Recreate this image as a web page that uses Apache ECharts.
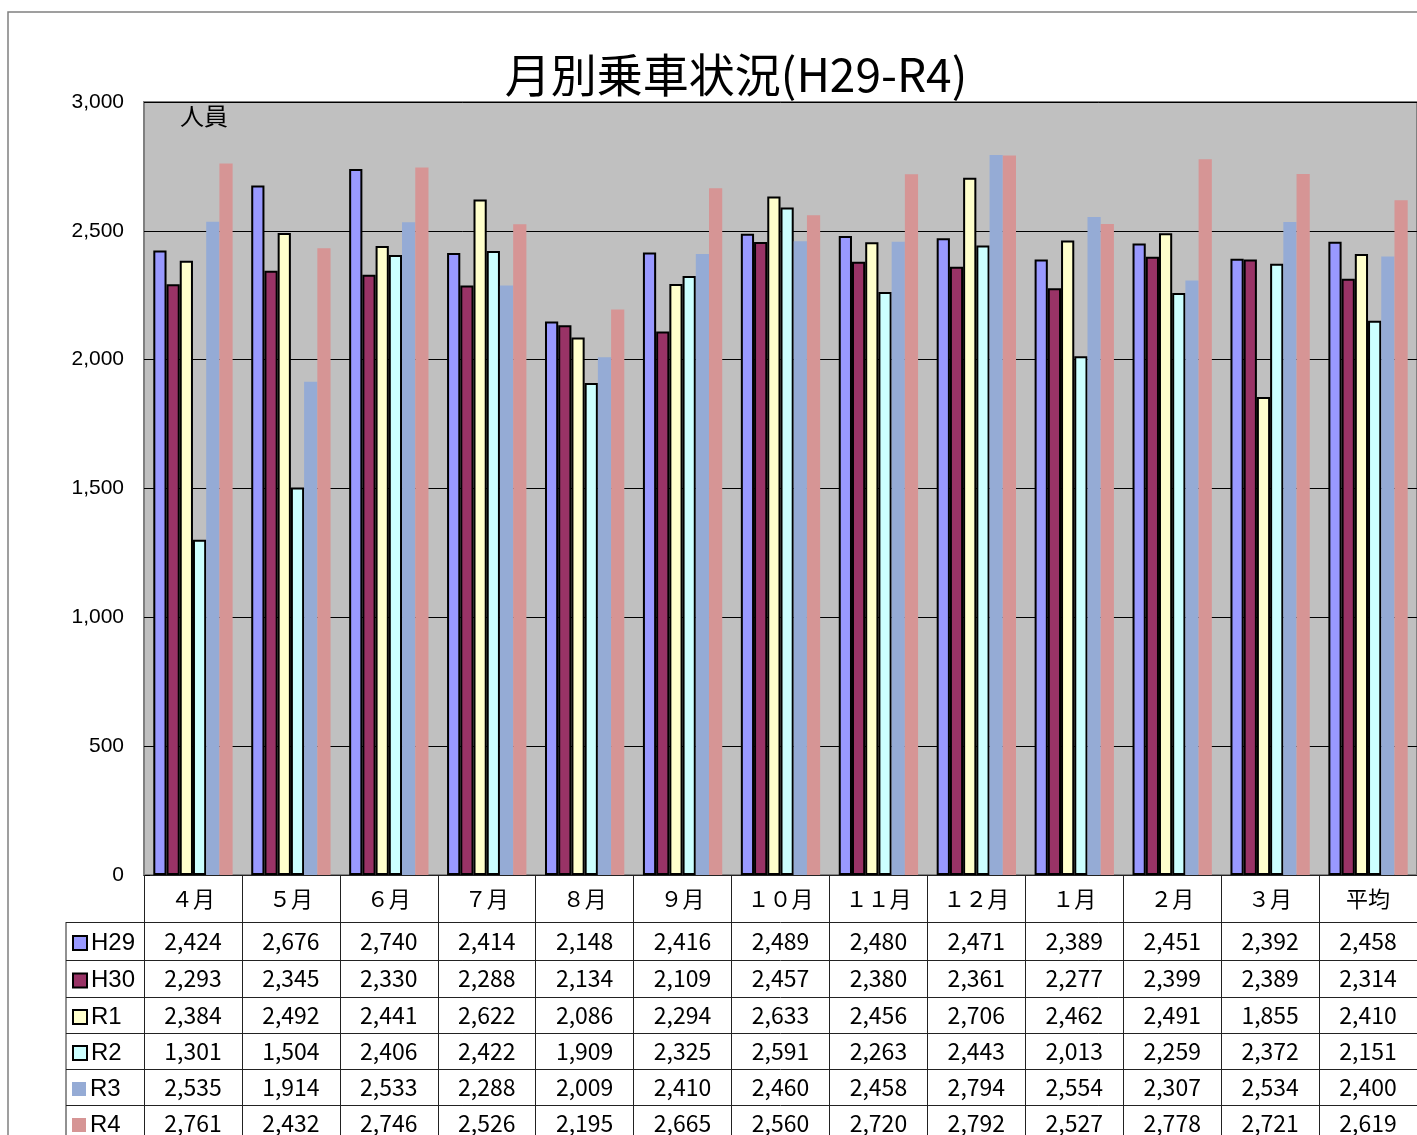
<!DOCTYPE html>
<html>
<head>
<meta charset="utf-8">
<title>月別乗車状況</title>
<script src="https://cdn.jsdelivr.net/npm/echarts@6/dist/echarts.min.js"></script>
<style>
	html, body { margin: 0; padding: 0; background: #fff; }
	#main { width: 1417px; height: 1135px; }
</style>
</head>
<body>
<div id="main"></div>
<script type="text/javascript">
	// 月（横軸）
	var months = ['４月', '５月', '６月', '７月', '８月', '９月', '１０月', '１１月', '１２月', '１月', '２月', '３月', '平均'];
	// 年度ごとの乗車人員
	var seriesNames = ['H29', 'H30', 'R1', 'R2', 'R3', 'R4'];
	var h29 = [2424, 2676, 2740, 2414, 2148, 2416, 2489, 2480, 2471, 2389, 2451, 2392, 2458];
	var h30 = [2293, 2345, 2330, 2288, 2134, 2109, 2457, 2380, 2361, 2277, 2399, 2389, 2314];
	var r1 = [2384, 2492, 2441, 2622, 2086, 2294, 2633, 2456, 2706, 2462, 2491, 1855, 2410];
	var r2 = [1301, 1504, 2406, 2422, 1909, 2325, 2591, 2263, 2443, 2013, 2259, 2372, 2151];
	var r3 = [2535, 1914, 2533, 2288, 2009, 2410, 2460, 2458, 2794, 2554, 2307, 2534, 2400];
	var r4 = [2761, 2432, 2746, 2526, 2195, 2665, 2560, 2720, 2792, 2527, 2778, 2721, 2619];
	var allData = [h29, h30, r1, r2, r3, r4];
	var colors = ['#9999FF', '#993366', '#FFFFCC', '#CCFFFF', '#95ABD5', '#D69595'];
	var bordered = [true, true, true, true, false, false];

	var fontJP = '"Noto Sans CJK JP", sans-serif';

	// 表の行（x軸からのオフセットと高さ）
	var rowOffsets = [0, 47, 85, 122, 158, 194, 230];
	var rowHeights = [47, 38, 37, 36, 36, 36, 36];

	function fmt(v) {
		return String(v).replace(/\B(?=(\d{3})+(?!\d))/g, ',');
	}

	var myChart = echarts.init(document.getElementById('main'));

	// x軸: 0番目が月、それ以降がデータ表の各行
	var xAxes = [];
	for (var i = 0; i < rowOffsets.length; i++) {
		var rowData = i === 0 ? months : allData[i - 1].map(fmt);
		var fs = i === 0 ? 22 : 23;
		xAxes.push({
			type: 'category',
			gridIndex: 0,
			position: 'bottom',
			offset: rowOffsets[i],
			data: rowData,
			axisLine: { show: true, lineStyle: { color: '#222', width: 1 } },
			axisTick: { show: true, interval: 0, length: rowHeights[i], lineStyle: { color: '#222', width: 1 } },
			axisLabel: {
				interval: 0,
				margin: rowHeights[i] / 2 - fs / 2,
				fontSize: fs,
				color: '#000',
				fontFamily: fontJP
			},
			splitLine: { show: false }
		});
	}

	var series = seriesNames.map(function (name, k) {
		return {
			name: name,
			type: 'bar',
			xAxisIndex: 0,
			data: allData[k],
			barGap: '0%',
			barCategoryGap: '19%',
			itemStyle: {
				color: colors[k],
				borderColor: '#000',
				borderWidth: bordered[k] ? 2 : 0
			}
		};
	});

	// 凡例は表の行ごとに一つずつ
	var legends = seriesNames.map(function (name, k) {
		var rowTop = 875 + rowOffsets[k + 1];
		return {
			orient: 'vertical',
			left: 72,
			top: rowTop + rowHeights[k + 1] / 2 - 11,
			padding: 0,
			itemWidth: 14,
			itemHeight: 14,
			icon: 'rect',
			textStyle: { fontSize: 24, lineHeight: 24, color: '#000', fontFamily: '"Liberation Sans", sans-serif', padding: [2, 0, 0, -1] },
			data: [name]
		};
	});

	// 左端の凡例欄の罫線
	var frame = [
		{ type: 'rect', shape: { x: 8, y: 12, width: 1420, height: 1140 }, style: { fill: 'none', stroke: '#808080', lineWidth: 1.5 }, silent: true },
		{ type: 'line', shape: { x1: 66, y1: 922, x2: 66, y2: 1135 }, style: { stroke: '#222', lineWidth: 1 }, silent: true }
	];
	for (var r = 1; r < rowOffsets.length; r++) {
		var y = 875 + rowOffsets[r] + 0.5;
		frame.push({ type: 'line', shape: { x1: 66, y1: y, x2: 144, y2: y }, style: { stroke: '#222', lineWidth: 1 }, silent: true });
	}
	frame.push({
		type: 'text', left: 180, top: 104, silent: true,
		style: { text: '人員', fontSize: 24, fill: '#000', fontFamily: fontJP }
	});

	var option = {
		animation: false,
		backgroundColor: '#fff',
		title: {
			text: '月別乗車状況(H29-R4)',
			left: 731,
			textAlign: 'center',
			top: 47,
			textStyle: { fontSize: 46, fontWeight: 'normal', color: '#000', fontFamily: fontJP }
		},
		legend: legends,
		grid: {
			left: 144,
			top: 102,
			width: 1274,
			height: 773,
			show: true,
			backgroundColor: '#c0c0c0',
			borderColor: '#808080',
			borderWidth: 2
		},
		xAxis: xAxes,
		yAxis: {
			type: 'value',
			min: 0,
			max: 3000,
			interval: 500,
			axisLine: { show: true, lineStyle: { color: '#808080', width: 2 } },
			axisTick: { show: true, inside: true, length: 6, lineStyle: { color: '#000' } },
			axisLabel: {
				margin: 20,
				fontSize: 21,
				color: '#000',
				fontFamily: '"Liberation Sans", sans-serif',
				formatter: function (v) { return fmt(v); }
			},
			splitLine: { show: true, lineStyle: { color: '#000', width: 1 } }
		},
		graphic: frame,
		series: series
	};

	myChart.setOption(option);
</script>
</body>
</html>
